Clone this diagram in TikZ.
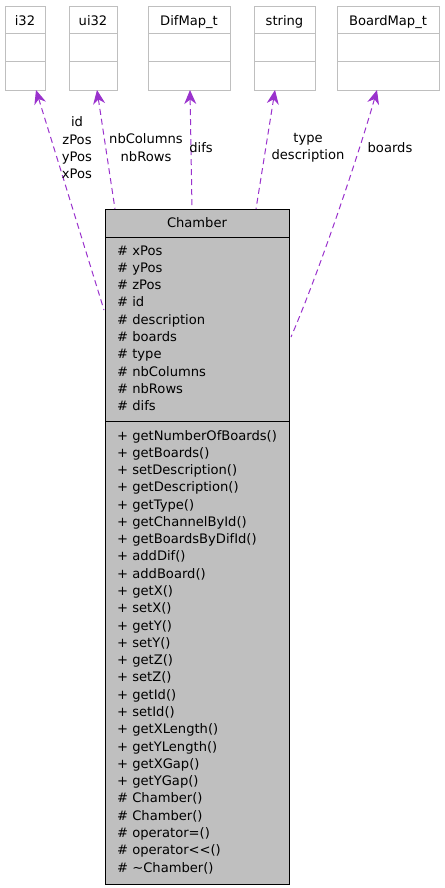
\documentclass[tikz,border=0pt]{standalone}
\usepackage{fontspec}
\setmainfont{DejaVu Sans}
\usetikzlibrary{arrows.meta,calc}
\definecolor{edgepurple}{HTML}{9A32CD}
\definecolor{boxgray}{HTML}{BFBFBF}
\definecolor{lightborder}{HTML}{BFBFBF}
\tikzset{
  txt/.style={inner sep=0pt,font=\fontsize{13.1}{17.4}\selectfont},
  typebox/.style={draw=lightborder,fill=white,line width=1pt,inner sep=0pt},
  mainbox/.style={draw=black,fill=boxgray,line width=1pt,inner sep=0pt},
  uses/.style={draw=edgepurple,line width=1pt,dash pattern=on 6pt off 4pt,
    {Stealth[length=14pt,width=12pt,inset=4.5pt,fill=edgepurple]}-},
  elabel/.style={txt,align=center}
}
\begin{document}
\begin{tikzpicture}[x=1pt,y=-1pt]
\useasboundingbox (0,0) rectangle (444,888);
% type boxes
\foreach \nm/\xa/\xb/\lab in {i32/5/45/i32, ui32/69/117/ui32, difmap/148/230/DifMap\_t, str/254/315/string, boardmap/337/439/BoardMap\_t}{
  \node[typebox,minimum width={\xb-\xa},minimum height=84,anchor=north west] (\nm) at (\xa,6) {};
  \draw[lightborder,line width=1pt] (\xa,34) -- (\xb,34) (\xa,62) -- (\xb,62);
  \node[txt,anchor=base] (\nm-t) at ({(\xa+\xb)/2},26) {\lab};
}
% Chamber box
\node[mainbox,minimum width=184,minimum height=675,anchor=north west] (chamber) at (105,209) {};
\draw[black,line width=1pt] (105,237) -- (289,237) (105,421) -- (289,421);
\node[txt,anchor=base] (title) at (197,227) {Chamber};
\foreach \t [count=\i from 0] in {xPos,yPos,zPos,id,description,boards,type,nbColumns,nbRows,difs}{
  \node[txt,anchor=base west] (a\i) at (117,{255+17.3*\i}) {\# \t};
}
\foreach \t [count=\i from 0] in {+ getNumberOfBoards(),+ getBoards(),+ setDescription(),+ getDescription(),+ getType(),+ getChannelById(),+ getBoardsByDifId(),+ addDif(),+ addBoard(),+ getX(),+ setX(),+ getY(),+ setY(),+ getZ(),+ setZ(),+ getId(),+ setId(),+ getXLength(),+ getYLength(),+ getXGap(),+ getYGap(),\# Chamber(),\# Chamber(),\# operator=(),\# operator<{}<(),\# \textasciitilde Chamber()}{
  \node[txt,anchor=base west] (m\i) at (117,{440+17.28*\i}) {\t};
}
% connector endpoints
\coordinate (i32end) at (36,90);
\coordinate (ui32end) at (97,90);
\coordinate (difend) at (190,90);
\coordinate (strend) at (275,90);
\coordinate (bmend) at (377,90);
\coordinate (c1) at (104,310);
\coordinate (c2) at (115,209);
\coordinate (c3) at (192,209);
\coordinate (c4) at (256,209);
\coordinate (c5) at (291,337);
\draw[uses] (i32end) -- (c1);
\draw[uses] (ui32end) -- (c2);
\draw[uses] (difend) -- (c3);
\draw[uses] (strend) -- (c4);
\draw[uses] (bmend) .. controls (360,150) and (320,270) .. (c5);
% edge labels
\node[elabel] (l1) at (77,148) {id\\zPos\\yPos\\xPos};
\node[elabel] (l2) at (146,147.5) {nbColumns\\nbRows};
\node[elabel] (l3) at (201,148) {difs};
\node[elabel] (l4) at (308,147.5) {type\\description};
\node[elabel] (l5) at (390,148) {boards};
\end{tikzpicture}
\end{document}
